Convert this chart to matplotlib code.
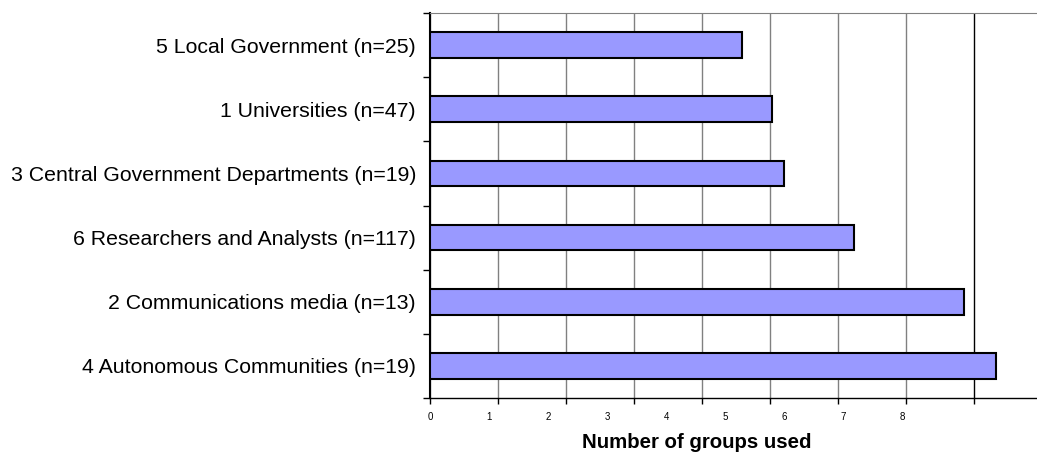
import numpy as np
import matplotlib
matplotlib.use("Agg")
import matplotlib.pyplot as plt

categories = [
    "5 Local Government (n=25)",
    "1 Universities (n=47)",
    "3 Central Government Departments (n=19)",
    "6 Researchers and Analysts (n=117)",
    "2 Communications media (n=13)",
    "4 Autonomous Communities (n=19)",
]
values = [4.59, 5.03, 5.21, 6.24, 7.85, 8.32]
xticks = list(range(9))
xlabel = "Number of groups used"

plt.rcParams['font.family'] = ['Liberation Sans', 'DejaVu Sans']

fig = plt.figure(figsize=(10.37, 4.63), dpi=100)
ax = fig.add_axes([430 / 1037, 1 - 398 / 463, 607 / 1037, 385 / 463])

y = np.arange(len(categories))
ax.barh(y, values, height=0.4, color='#9999FF', edgecolor='black', linewidth=1.5, zorder=3)

ax.set_xlim(0, 607 / 68)
ax.set_ylim(len(categories) - 0.5, -0.5)

# gridlines at each unit
ax.set_xticks(xticks)
ax.set_xticklabels([])
ax.grid(axis='x', color='#808080', linewidth=1, zorder=0)
ax.get_xgridlines()[-1].set_color('black')
ax.tick_params(axis='x', direction='out', length=4, width=1, color='black')

# tick labels sit on a slightly narrower spacing in the original
for k in xticks:
    ax.text(k * 59 / 68, -0.05, str(k), transform=ax.get_xaxis_transform(),
            ha='center', va='center', fontsize=7)

# category boundaries as major ticks, names as minor tick labels
ax.set_yticks(np.arange(-0.5, len(categories)))
ax.set_yticklabels([])
ax.tick_params(axis='y', which='major', direction='out', length=5, width=1)
ax.set_yticks(y, minor=True)
ax.set_yticklabels(categories, minor=True, fontsize=15.3)
ax.tick_params(axis='y', which='minor', length=0, pad=10)

ax.spines['right'].set_visible(False)
ax.spines['top'].set_color('#808080')
ax.spines['left'].set_linewidth(1.5)
ax.spines['bottom'].set_linewidth(1)

fig.text(697 / 1037, 1 - 443 / 463, xlabel, ha='center', va='center',
         fontsize=14.7, fontweight='bold')

fig.savefig("out.png", dpi=100)
